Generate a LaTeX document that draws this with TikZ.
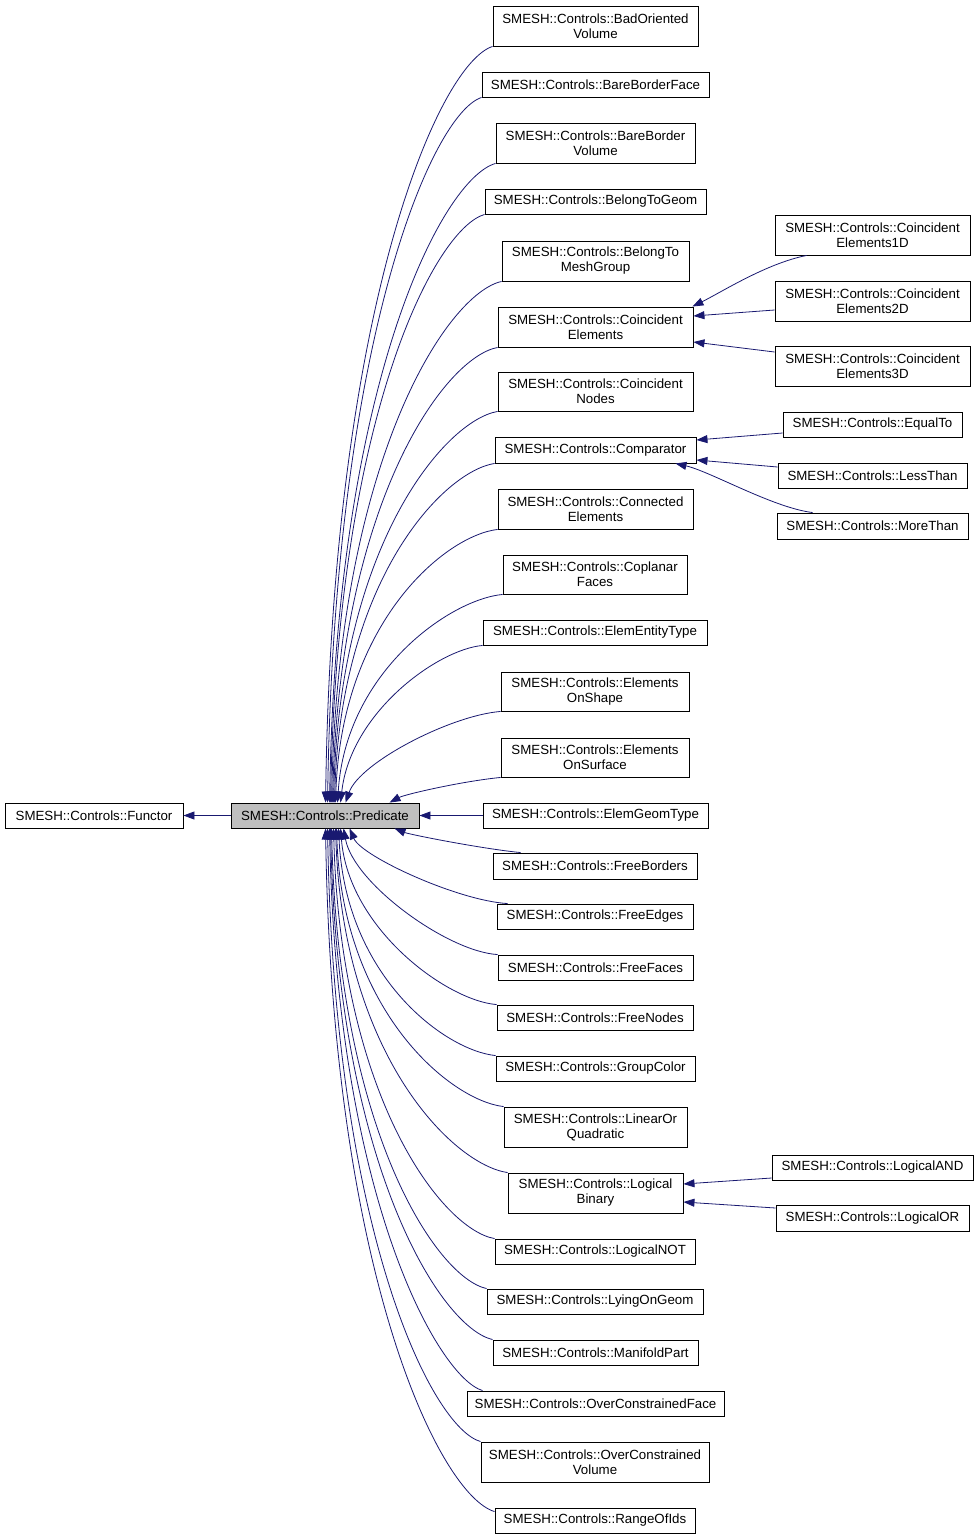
\documentclass[tikz,border=0pt]{standalone}
\usepackage{fontspec}
\setmainfont{Liberation Sans}
\usetikzlibrary{arrows.meta,calc}
\definecolor{navyedge}{HTML}{191970}
\definecolor{predgray}{HTML}{BFBFBF}
\newcommand\mybox[6]{\node[box, minimum width={(#4-#2)*1pt}, minimum height={(#5-#3)*1pt}] (#1) at ({(#2+#4)/2},{(#3+#5)/2}) {#6};}
\newcommand\uedge[6]{\draw[conn] (#1.south west) .. controls +(#2,#3) and +(#4,#5) .. ([xshift=#6pt]pred.north west);}
\newcommand\dedge[7]{\draw[conn] ([xshift=#2pt]#1.north west) .. controls +(#3,#4) and +(#5,#6) .. ([xshift=#7pt]pred.south west);}
\begin{document}
\begin{tikzpicture}[x=1pt,y=-1pt,
  box/.style={draw=black, line width=0.9pt, inner sep=0pt, align=center, font=\fontsize{13.3}{15}\selectfont},
  conn/.style={draw=navyedge, line width=0.8pt, -{Triangle[length=11pt,width=8pt]}, fill=none}]
\useasboundingbox (0,0) rectangle (979,1539);
\mybox{functor}{5}{803}{183}{828}{SMESH::Controls::Functor}
\node[box, fill=predgray, minimum width=188pt, minimum height=25pt] (pred) at (325,815.5) {SMESH::Controls::Predicate};
\mybox{bov}{493}{6}{698}{46}{SMESH::Controls::BadOriented\\Volume}
\mybox{bbf}{482}{72}{709}{97}{SMESH::Controls::BareBorderFace}
\mybox{bbv}{496}{123}{695}{163}{SMESH::Controls::BareBorder\\Volume}
\mybox{btg}{485}{189}{706}{214}{SMESH::Controls::BelongToGeom}
\mybox{btm}{502}{241}{689}{281}{SMESH::Controls::BelongTo\\MeshGroup}
\mybox{ce}{498}{307}{693}{347}{SMESH::Controls::Coincident\\Elements}
\mybox{cn}{498}{372}{693}{411}{SMESH::Controls::Coincident\\Nodes}
\mybox{cmp}{495}{437}{696}{463}{SMESH::Controls::Comparator}
\mybox{cne}{498}{489}{693}{529}{SMESH::Controls::Connected\\Elements}
\mybox{cf}{503}{555}{687}{594}{SMESH::Controls::Coplanar\\Faces}
\mybox{eet}{483}{620}{707}{645}{SMESH::Controls::ElemEntityType}
\mybox{eosh}{501}{672}{689}{711}{SMESH::Controls::Elements\\OnShape}
\mybox{eosu}{501}{738}{689}{777}{SMESH::Controls::Elements\\OnSurface}
\mybox{egt}{483}{803}{708}{828}{SMESH::Controls::ElemGeomType}
\mybox{fb}{493}{853}{697}{879}{SMESH::Controls::FreeBorders}
\mybox{fe}{497}{904}{693}{929}{SMESH::Controls::FreeEdges}
\mybox{ff}{498}{955}{693}{980}{SMESH::Controls::FreeFaces}
\mybox{fn}{497}{1005}{693}{1030}{SMESH::Controls::FreeNodes}
\mybox{gc}{496}{1056}{695}{1081}{SMESH::Controls::GroupColor}
\mybox{loq}{504}{1107}{687}{1147}{SMESH::Controls::LinearOr\\Quadratic}
\mybox{lb}{508}{1173}{683}{1213}{SMESH::Controls::Logical\\Binary}
\mybox{lnot}{495}{1239}{695}{1264}{SMESH::Controls::LogicalNOT}
\mybox{log}{487}{1289}{703}{1314}{SMESH::Controls::LyingOnGeom}
\mybox{mp}{493}{1340}{698}{1365}{SMESH::Controls::ManifoldPart}
\mybox{ocf}{467}{1391}{724}{1416}{SMESH::Controls::OverConstrainedFace}
\mybox{ocv}{481}{1442}{709}{1482}{SMESH::Controls::OverConstrained\\Volume}
\mybox{roi}{495}{1508}{695}{1533}{SMESH::Controls::RangeOfIds}
\mybox{ce1}{775}{215}{970}{255}{SMESH::Controls::Coincident\\Elements1D}
\mybox{ce2}{775}{281}{970}{321}{SMESH::Controls::Coincident\\Elements2D}
\mybox{ce3}{775}{346}{970}{386}{SMESH::Controls::Coincident\\Elements3D}
\mybox{eq}{783}{412}{962}{437}{SMESH::Controls::EqualTo}
\mybox{lt}{778}{463}{967}{488}{SMESH::Controls::LessThan}
\mybox{mt}{777}{513}{968}{539}{SMESH::Controls::MoreThan}
\mybox{land}{772}{1155}{973}{1180}{SMESH::Controls::LogicalAND}
\mybox{lor}{776}{1205}{969}{1231}{SMESH::Controls::LogicalOR}
% edges into Predicate from above
\uedge{bov}{-53}{17}{7}{-500}{95}
\uedge{bbf}{-49}{16}{7}{-466}{97}
\uedge{bbv}{-53}{15}{7}{-422}{99}
\uedge{btg}{-49}{14}{7}{-389}{100}
\uedge{btm}{-54}{12}{7}{-345}{101}
\uedge{ce}{-53}{10}{7}{-301}{102}
\uedge{cn}{-52}{9}{6}{-259}{103}
\uedge{cmp}{-51}{8}{6}{-224}{104}
\uedge{cne}{-52}{6}{6}{-181}{105}
\uedge{cf}{-53}{5}{8}{-130}{107}
\uedge{eet}{-45}{4}{10}{-90}{110}
\uedge{eosh}{-50}{4}{14}{-40}{115}
\uedge{eosu}{-40}{4}{15}{-8}{159}
% horizontal
\draw[conn] (egt.west) -- (pred.east);
\draw[conn] (pred.west) -- (functor.east);
% edges into Predicate from below
\dedge{fb}{28}{-40}{-4}{15}{6}{164}
\dedge{fe}{11}{-50}{-3}{12}{28}{119}
\dedge{ff}{0}{-50}{-3}{10}{55}{113}
\dedge{fn}{0}{-50}{-4}{8}{100}{110}
\dedge{gc}{0}{-50}{-5}{7}{149}{108}
\dedge{loq}{0}{-53}{-6}{6}{183}{106}
\dedge{lb}{0}{-55}{-8}{7}{226}{105}
\dedge{lnot}{0}{-52}{-9}{7}{270}{103}
\dedge{log}{0}{-50}{-11}{7}{303}{101}
\dedge{mp}{0}{-52}{-12}{7}{337}{100}
\dedge{ocf}{16}{-44}{-13}{7}{370}{99}
\dedge{ocv}{0}{-49}{-14}{7}{404}{97}
\draw[conn] ([yshift=-4pt]roi.north west) .. controls +(-54,-16) and +(7,450) .. ([xshift=95pt]pred.south west);
% right column
\draw[conn] ([xshift=32pt]ce1.south west) .. controls +(-40,8) and +(30,-15) .. ([xshift=-1pt]ce.north east);
\draw[conn] ([yshift=-9pt]ce2.west) -- ([yshift=11pt]ce.east);
\draw[conn] ([yshift=14pt]ce3.west) -- ([yshift=-15pt]ce.east);
\draw[conn] ([yshift=-8.5pt]eq.west) -- ([yshift=10pt]cmp.east);
\draw[conn] ([yshift=8.5pt]lt.west) -- ([yshift=-10pt]cmp.east);
\draw[conn] ([xshift=36pt]mt.north west) .. controls +(-40,-5) and +(35,8) .. ([xshift=-21pt]cmp.south east);
\draw[conn] ([yshift=-10.5pt]land.west) -- ([yshift=9pt]lb.east);
\draw[conn] ([yshift=10pt]lor.west) -- ([yshift=-9pt]lb.east);
\end{tikzpicture}
\end{document}
